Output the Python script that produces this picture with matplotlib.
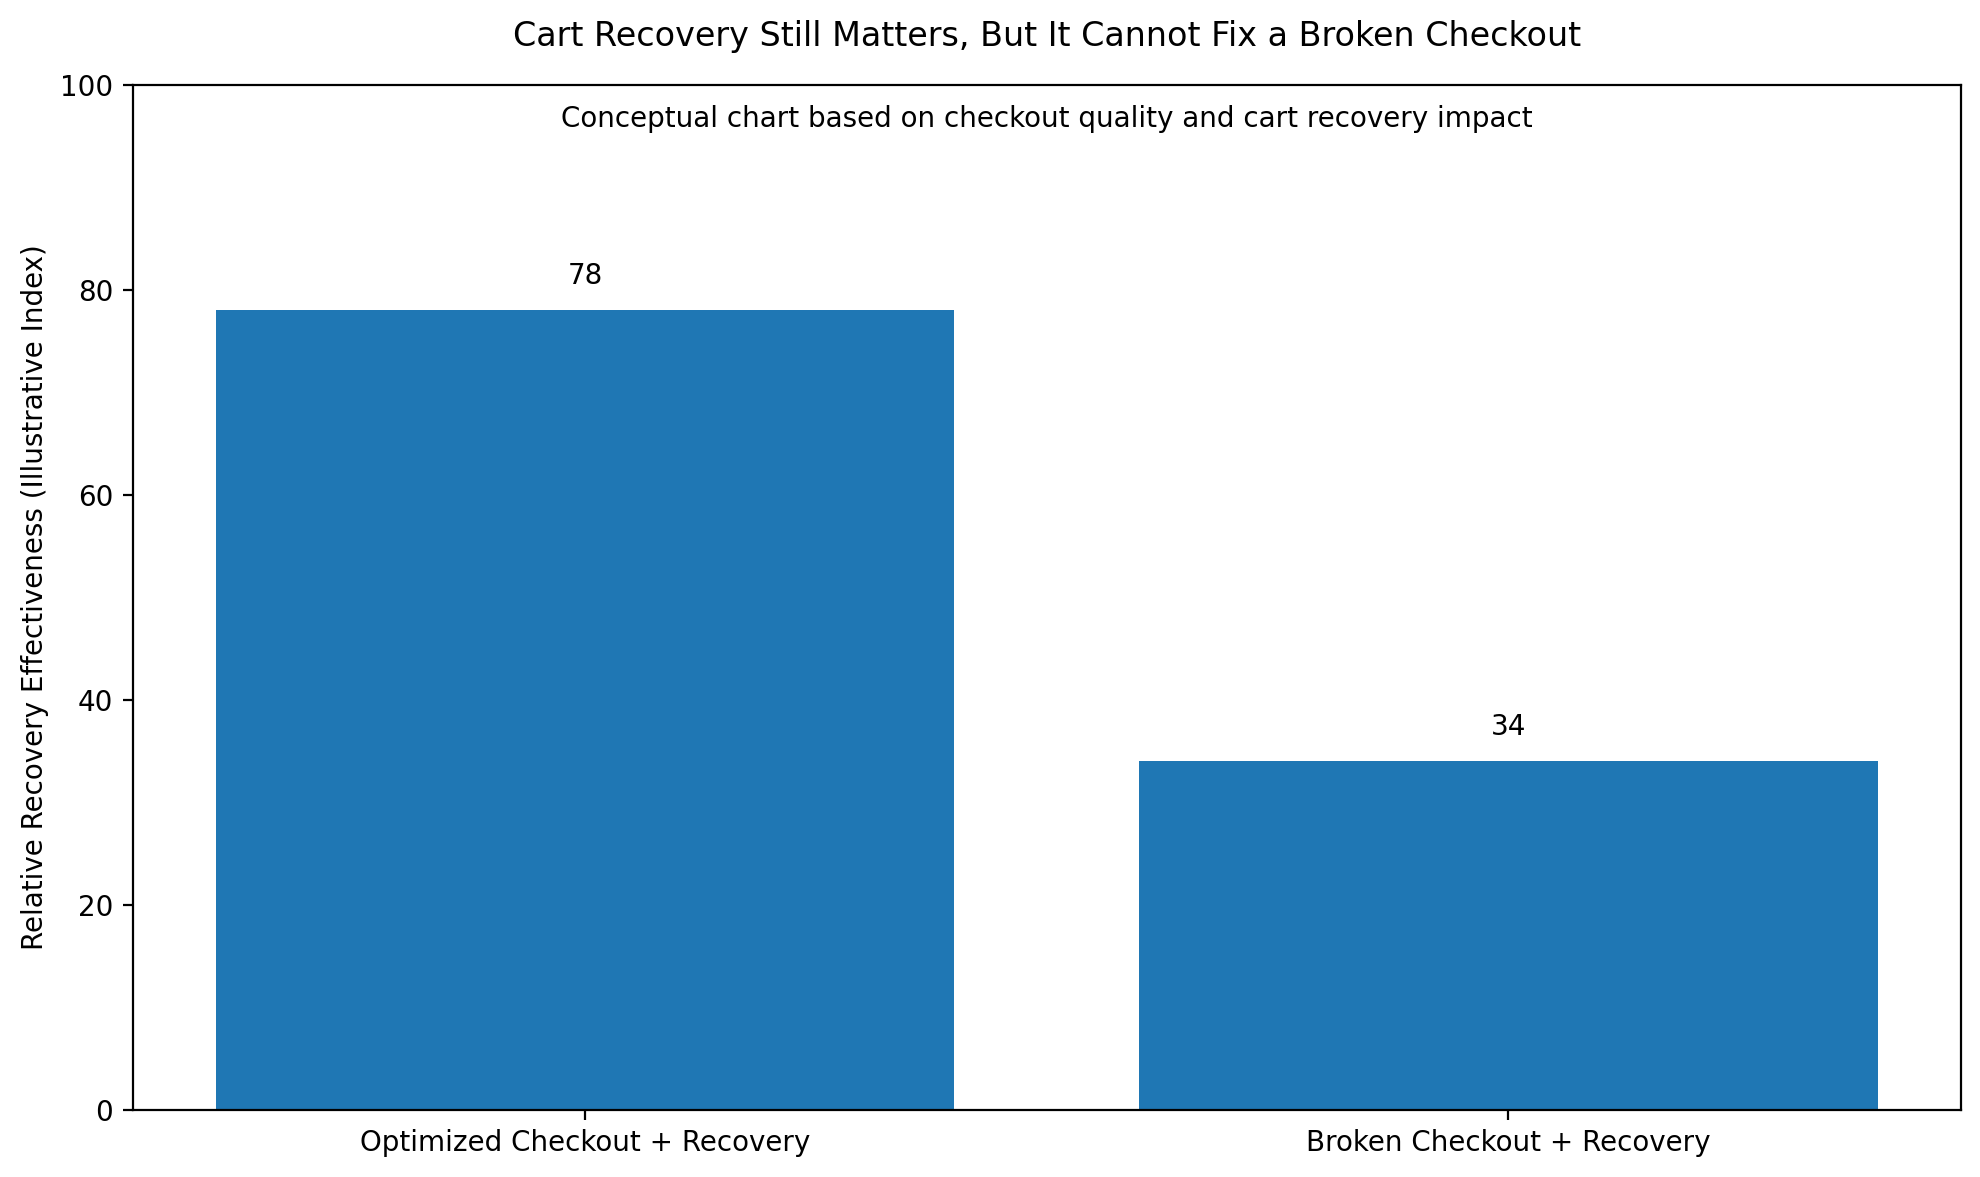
import matplotlib
matplotlib.use("Agg")
import matplotlib.pyplot as plt

categories = ["Optimized Checkout + Recovery", "Broken Checkout + Recovery"]
values = [78, 34]

fig, ax = plt.subplots(figsize=(9.9, 5.885), dpi=200)
fig.subplots_adjust(left=0.0670, right=0.9902, top=0.928, bottom=0.057)
bars = ax.bar(categories, values, color="#1f77b4", width=0.8)
for i, v in enumerate(values):
    ax.text(i, v + 2, str(v), ha="center", va="bottom", fontsize=10)
ax.set_ylim(0, 100)
ax.set_ylabel("Relative Recovery Effectiveness (Illustrative Index)")
ax.set_title("Cart Recovery Still Matters, But It Cannot Fix a Broken Checkout", fontsize=12, pad=14)
ax.text(0.5, 0.98, "Conceptual chart based on checkout quality and cart recovery impact",
        transform=ax.transAxes, ha="center", va="top", fontsize=10)
fig.savefig("out.png", dpi=200)
